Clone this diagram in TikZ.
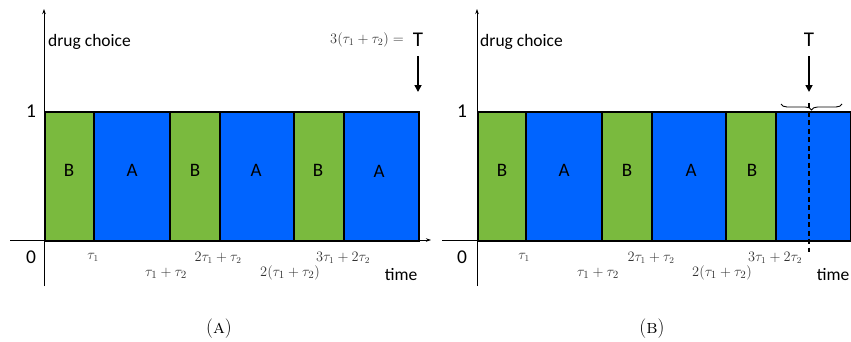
\documentclass[tikz,border=0pt]{standalone}
\usepackage{fontspec}
\newfontfamily\carl{Carlito}
\usetikzlibrary{arrows.meta,decorations.pathreplacing}
\definecolor{bgreen}{RGB}{122,186,62}
\definecolor{bblue}{RGB}{0,100,255}
\begin{document}
\begin{tikzpicture}[x=1pt,y=-1pt,
  bar/.style={draw=black,line width=1.7pt,inner sep=0pt,minimum height=129pt,anchor=north west},
  gbar/.style={bar,fill=bgreen},
  abar/.style={bar,fill=bblue},
  letr/.style={font=\carl\fontsize{19}{21}\selectfont,inner sep=0pt},
  lab/.style={font=\carl\fontsize{17.5}{19}\selectfont,inner sep=0pt},
  num/.style={font=\carl\fontsize{19.5}{21}\selectfont,inner sep=0pt},
  mlab/.style={font=\fontsize{13.5}{15}\selectfont,inner sep=0pt,text=black!80},
  mlabl/.style={font=\fontsize{15}{17}\selectfont,inner sep=0pt,text=black!80},
  axis/.style={line width=0.8pt,-{Stealth[length=5pt,width=3.5pt]}},
  tarr/.style={line width=1.6pt,-{Triangle[length=7pt,width=7pt]}},
  captn/.style={font=\fontsize{19.5}{21}\selectfont,inner sep=0pt}]
\useasboundingbox (0,0) rectangle (851,341);
% ---------- panel A ----------
\coordinate (axL) at (10,240);
\coordinate (axR) at (431,240);
\coordinate (ayB) at (44,286);
\coordinate (ayT) at (44,9);
\draw[axis] (axL) -- (axR);
\draw[axis] (ayB) -- (ayT);
\node[gbar,minimum width=49pt] (a1) at (44,111) {};
\node[abar,minimum width=76pt] (a2) at (93,111) {};
\node[gbar,minimum width=50pt] (a3) at (169,111) {};
\node[abar,minimum width=74pt] (a4) at (219,111) {};
\node[gbar,minimum width=50pt] (a5) at (293,111) {};
\node[abar,minimum width=75pt] (a6) at (343,111) {};
\node[letr] (la1) at (69,170) {B};
\node[letr] (la2) at (132,170) {A};
\node[letr] (la3) at (195,170) {B};
\node[letr] (la4) at (256,170) {A};
\node[letr] (la5) at (318,170) {B};
\node[letr] (la6) at (379,171) {A};
\node[lab,anchor=west] (dcA) at (48,42) {drug choice};
\node[num] (oneA) at (31,111) {1};
\node[num] (zeroA) at (31,257) {0};
\node[mlab] (t1A) at (93,257) {$\tau_1$};
\node[mlabl] (t2A) at (166,273) {$\tau_1+\tau_2$};
\node[mlab] (t3A) at (218,258) {$2\tau_1+\tau_2$};
\node[mlabl] (t4A) at (290,273) {$2(\tau_1+\tau_2)$};
\node[mlab] (t5A) at (343,258) {$3\tau_1+2\tau_2$};
\node[lab] (timeA) at (401,275) {time};
\node[font=\carl\fontsize{21}{23}\selectfont,inner sep=0pt] (TA) at (418,40) {T};
\node[mlab,font=\fontsize{14.5}{16}\selectfont,anchor=east] (eqA) at (404,40) {$3(\tau_1+\tau_2)=$};
\coordinate (TAs) at (418,56);
\coordinate (TAe) at (418,92);
\draw[tarr] (TAs) -- (TAe);
\node[captn] (capA) at (219,329) {(\textsc{a})};
% ---------- panel B ----------
\coordinate (bxL) at (442,240);
\coordinate (bxR) at (851,240);
\coordinate (byB) at (477,286);
\coordinate (byT) at (477,9);
\draw[line width=0.8pt] (bxL) -- (bxR);
\draw[axis] (byB) -- (byT);
\node[gbar,minimum width=48pt] (b1) at (477,111) {};
\node[abar,minimum width=76pt] (b2) at (525,111) {};
\node[gbar,minimum width=50pt] (b3) at (601,111) {};
\node[abar,minimum width=74pt] (b4) at (651,111) {};
\node[gbar,minimum width=50pt] (b5) at (725,111) {};
\node[abar,minimum width=75pt] (b6) at (775,111) {};
\node[letr] (lb1) at (502,170) {B};
\node[letr] (lb2) at (564,170) {A};
\node[letr] (lb3) at (627,170) {B};
\node[letr] (lb4) at (691,170) {A};
\node[letr] (lb5) at (752,170) {B};
\node[lab,anchor=west] (dcB) at (480,42) {drug choice};
\node[num] (oneB) at (462,111) {1};
\node[num] (zeroB) at (462,257) {0};
\node[mlab] (t1B) at (524,257) {$\tau_1$};
\node[mlabl] (t2B) at (598,273) {$\tau_1+\tau_2$};
\node[mlab] (t3B) at (651,258) {$2\tau_1+\tau_2$};
\node[mlabl] (t4B) at (722,273) {$2(\tau_1+\tau_2)$};
\node[mlab] (t5B) at (775,258) {$3\tau_1+2\tau_2$};
\node[lab] (timeB) at (833,275) {time};
\coordinate (dT) at (809,103);
\coordinate (dB) at (809,252);
\draw[line width=2pt,dash pattern=on 5pt off 3.5pt] (dT) -- (dB);
\coordinate (brL) at (781,104);
\coordinate (brR) at (842,104);
\draw[line width=0.9pt,decorate,decoration={brace,amplitude=6pt,mirror}] (brL) -- (brR);
\node[font=\carl\fontsize{21}{23}\selectfont,inner sep=0pt] (TB) at (809,40) {T};
\coordinate (TBs) at (809,56);
\coordinate (TBe) at (809,92);
\draw[tarr] (TBs) -- (TBe);
\node[captn] (capB) at (652,329) {(\textsc{b})};
\end{tikzpicture}
\end{document}
